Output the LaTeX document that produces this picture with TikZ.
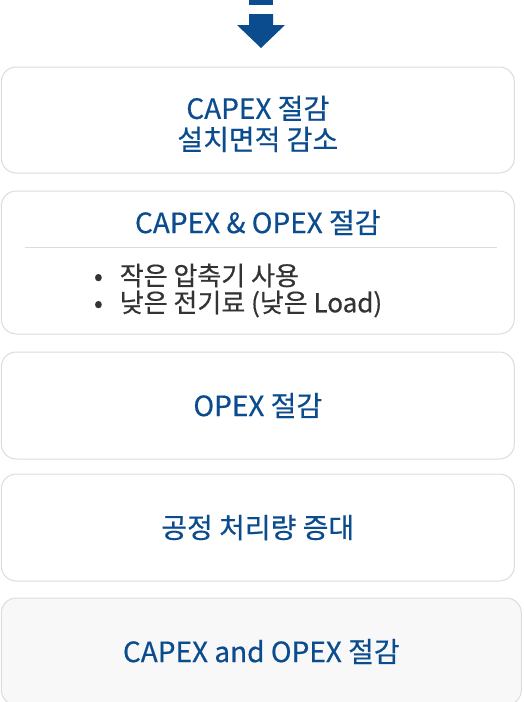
\documentclass[tikz,border=0pt]{standalone}
\usepackage{fontspec}
\setmainfont{Noto Sans CJK KR}[FakeBold=0.5]
\usetikzlibrary{positioning}
\definecolor{capblue}{HTML}{0B4C8E}
\definecolor{boxline}{HTML}{DCDCDC}
\definecolor{bodygray}{HTML}{333333}
\definecolor{lastfill}{HTML}{F8F8F8}

\begin{document}
\begin{tikzpicture}[x=1pt,y=-1pt,
        stage/.style={draw=boxline,line width=1pt,rounded corners=15pt,fill=white,
            minimum width=513pt,minimum height=106pt,inner sep=0pt,
            text=capblue,align=center,font=\fontsize{28}{31}\selectfont},
        title/.style={inner sep=0pt,text=capblue,font=\fontsize{28}{31}\selectfont},
        bullets/.style={inner sep=0pt,text=bodygray,align=left,font=\fontsize{26}{27}\selectfont}]

  \useasboundingbox (0,0) rectangle (523,702);

  \fill[capblue] (249,0) rectangle (273,5);
  \fill[capblue] (249,14) -- (273,14) -- (273,25) -- (285,25) -- (261,48) -- (237,25) -- (249,25) -- cycle;

  \node[stage] (Capex) at (257.8,120) {\rule{0pt}{31pt}CAPEX 절감\\설치면적 감소};
  \node[stage][minimum height=143pt] (Both) [below=17pt of Capex] {};
  \node[stage][minimum height=107pt] (Opex) [below=17pt of Both] {OPEX 절감};
  \node[stage][minimum height=107pt] (Process) [below=14pt of Opex] {공정 처리량 증대};
  \node[stage][minimum height=107pt,minimum width=520pt,fill=lastfill] (Total) [below=16pt of Process,xshift=3.5pt] {CAPEX and OPEX 절감};

  \node[title] (Both Title) at ([yshift=-32pt]Both.north) {CAPEX \& OPEX 절감};
  \coordinate (Rule Left) at ([xshift=24pt,yshift=-57pt]Both.north west);
  \coordinate (Rule Right) at ([xshift=-18pt,yshift=-57pt]Both.north east);
  \draw[boxline,line width=0.8pt] (Rule Left) -- (Rule Right);
  \node[bullets][anchor=west] (Both List) at ([xshift=93pt,yshift=-100pt]Both.north west)
        {•\hspace{17pt}작은 압축기 사용\\•\hspace{17pt}낮은 전기료 (낮은 Load)};
\end{tikzpicture}
\end{document}
